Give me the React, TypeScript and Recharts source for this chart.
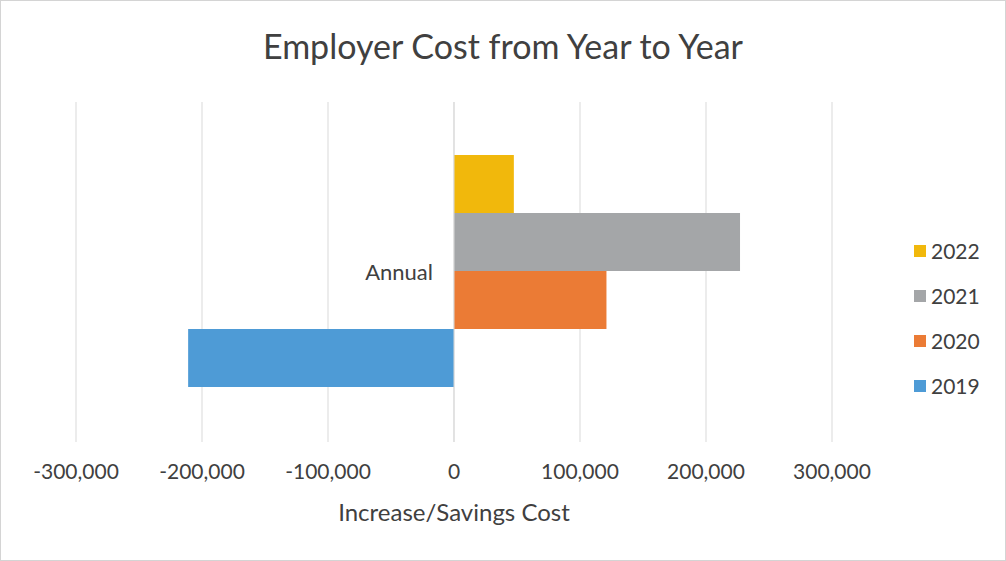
import { BarChart, Bar, XAxis, YAxis, CartesianGrid, Legend, ReferenceLine } from 'recharts';

// data
const categories = ['Annual'];
const series = ['2022', '2021', '2020', '2019'];
const values2022 = [47500];
const values2021 = [227000];
const values2020 = [121000];
const values2019 = [-211000];
const xTicks = [-300000, -200000, -100000, 0, 100000, 200000, 300000];

const COLORS: Record<string, string> = {
  '2022': '#f1b80c',
  '2021': '#a4a6a8',
  '2020': '#eb7b35',
  '2019': '#4e9bd6',
};

const data = categories.map((name, i) => ({
  name,
  '2022': values2022[i],
  '2021': values2021[i],
  '2020': values2020[i],
  '2019': values2019[i],
}));

const FONT = 'Lato, "Open Sans", sans-serif';
const TEXT = '#404040';

const LegendBox = () => (
  <ul style={{ listStyle: 'none', margin: 0, padding: 0 }}>
    {series.map((s) => (
      <li key={s} style={{ display: 'flex', alignItems: 'center', height: 45 }}>
        <span style={{ width: 12, height: 12, background: COLORS[s], marginRight: 5 }} />
        <span style={{ fontSize: 21, color: TEXT, fontFamily: FONT }}>{s}</span>
      </li>
    ))}
  </ul>
);

export default function App() {
  return (
    <div
      style={{
        position: 'absolute',
        left: 0,
        top: 0,
        width: 1006,
        height: 561,
        boxSizing: 'border-box',
        border: '1px solid #d4d4d4',
        background: '#fff',
        fontFamily: FONT,
      }}
    >
      <div
        style={{
          position: 'absolute',
          top: 24,
          left: 0,
          width: '100%',
          textAlign: 'center',
          fontSize: 34,
          color: TEXT,
        }}
      >
        Employer Cost from Year to Year
      </div>
      <div style={{ position: 'absolute', left: -1, top: -1 }}>
        <BarChart
          width={1006}
          height={561}
          data={data}
          layout="vertical"
          margin={{ top: 102, right: 174, bottom: 69, left: 76 }}
          barCategoryGap="15.6%"
          barGap={0}
        >
          <CartesianGrid horizontal={false} stroke="#d9d9d9" />
          <XAxis
            type="number"
            domain={[-300000, 300000]}
            ticks={xTicks}
            interval={0}
            axisLine={false}
            tickLine={false}
            tickMargin={16}
            height={50}
            tick={{ fontSize: 21, fill: TEXT, fontFamily: FONT }}
            tickFormatter={(v: number) => v.toLocaleString('en-US')}
            label={{
              value: 'Increase/Savings Cost',
              position: 'bottom',
              offset: 12,
              fontSize: 24,
              fill: TEXT,
              fontFamily: FONT,
            }}
          />
          <YAxis type="category" dataKey="name" hide width={0} />
          {series.map((s) => (
            <Bar key={s} dataKey={s} fill={COLORS[s]} isAnimationActive={false} />
          ))}
          <ReferenceLine
            x={0}
            stroke="#d9d9d9"
            label={{
              value: categories[0],
              position: 'left',
              offset: 21,
              fontSize: 22,
              fill: TEXT,
              fontFamily: FONT,
            }}
          />
          <Legend
            layout="vertical"
            align="center"
            verticalAlign="middle"
            content={<LegendBox />}
            wrapperStyle={{ left: 914, top: 228, width: 90 }}
          />
        </BarChart>
      </div>
    </div>
  );
}
